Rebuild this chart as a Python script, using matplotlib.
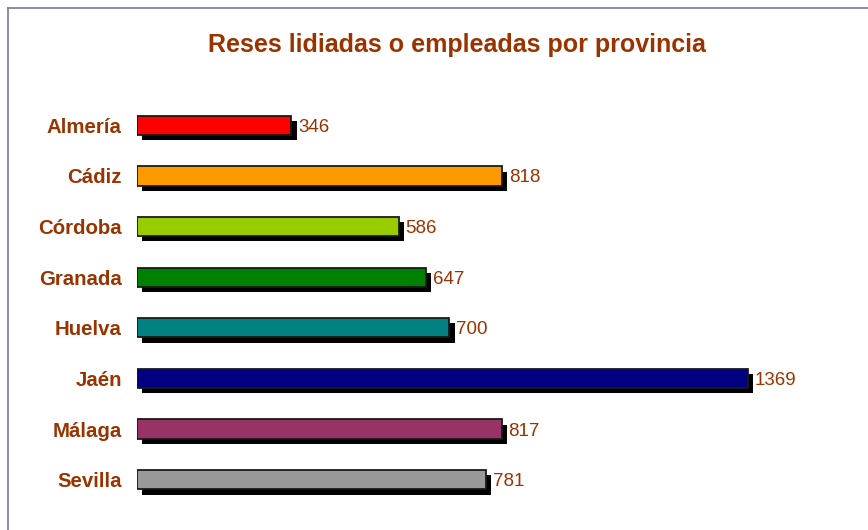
import matplotlib
matplotlib.use("Agg")
import matplotlib.pyplot as plt
import matplotlib.patheffects as pe
from matplotlib.lines import Line2D

# data
provinces = ["Almería", "Cádiz", "Córdoba", "Granada", "Huelva", "Jaén", "Málaga", "Sevilla"]
reses = [346, 818, 586, 647, 700, 1369, 817, 781]
bar_colors = ["#FF0000", "#FF9900", "#99CC00", "#008000", "#008080", "#000080", "#993366", "#999999"]

brown = "#993300"
plt.rcParams["font.family"] = ["Liberation Sans", "DejaVu Sans"]

W, H = 868, 530
fig = plt.figure(figsize=(W / 100, H / 100), dpi=100)

# frame lines (left and top only, like the original slide border)
fig.add_artist(Line2D([8 / W, 8 / W], [0, 1 - 8 / H], color="#7777aa", lw=1.2))
fig.add_artist(Line2D([8 / W, 1], [1 - 8 / H, 1 - 8 / H], color="#7777aa", lw=1.2))

fig.text(457 / W, 1 - 45 / H, "Reses lidiadas o empleadas por provincia",
         ha="center", va="center", fontsize=18, fontweight="bold", color=brown)

# axes spanning pixel x 137..837, y 100..505 (from top)
ax = fig.add_axes([137 / W, 25 / H, 700 / W, 405 / H])
ypos = list(range(len(provinces)))
shadow = [pe.SimplePatchShadow(offset=(3.8, -3.8), shadow_rgbFace="black", alpha=1.0),
          pe.Normal()]
bars = ax.barh(ypos, reses, height=0.38, color=bar_colors, edgecolor="#1a1a1a",
               linewidth=1.3)
for b in bars:
    b.set_path_effects(shadow)

for y, v in zip(ypos, reses):
    ax.annotate(str(v), (v, y), xytext=(5, 0), textcoords="offset points",
                ha="left", va="center_baseline", fontsize=13.5, color=brown)

ax.set_xlim(0, 700 / 0.4463)
ax.set_ylim(len(provinces) - 0.5, -0.5)
ax.set_yticks(ypos)
ax.set_yticklabels(provinces, fontsize=14.7, fontweight="bold", color=brown,
                   va="center_baseline")
ax.tick_params(axis="y", length=0, pad=11)
ax.set_xticks([])
for s in ax.spines.values():
    s.set_visible(False)

fig.savefig("out.png", dpi=100)
